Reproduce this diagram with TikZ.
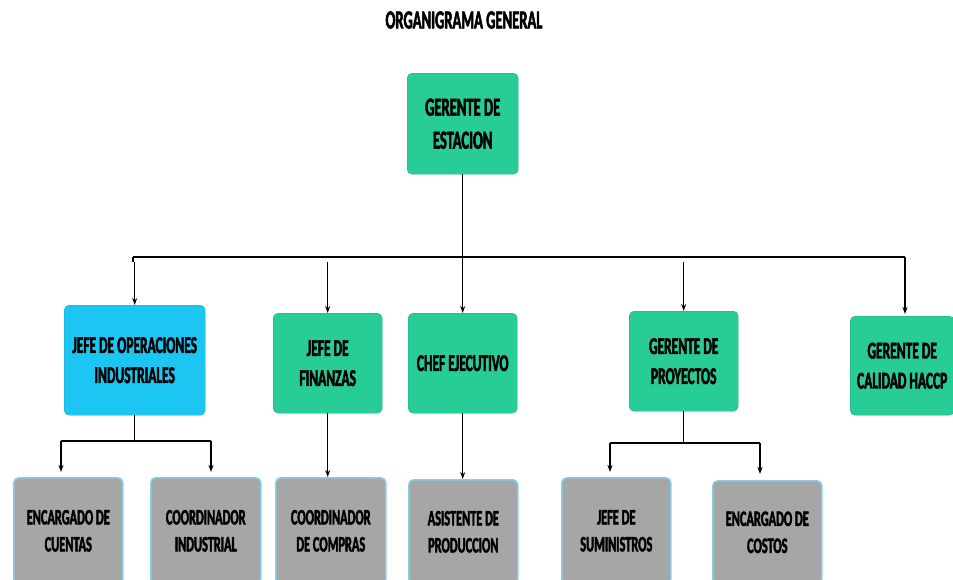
\documentclass[tikz,border=0pt]{standalone}
\usepackage{fontspec}
\newfontfamily\orgfont{Carlito}[FakeStretch=0.56, FakeBold=2]
\usetikzlibrary{arrows.meta}
\definecolor{mint}{HTML}{27CC96}
\definecolor{skyc}{HTML}{1DC6F2}
\definecolor{boxgray}{HTML}{A6A6A6}
\definecolor{rimblue}{HTML}{86CDE6}
\begin{document}
\begin{tikzpicture}[x=1pt,y=-1pt,
  box/.style={rounded corners=5pt, align=center, inner sep=0pt, anchor=north west,
    font=\orgfont\bfseries},
  greenbox/.style={box, fill=mint, draw=mint!85!black, line width=0.4pt},
  bluebox/.style={box, fill=skyc, draw=skyc!85!black, line width=0.4pt},
  graybox/.style={box, fill=boxgray, draw=rimblue, line width=1.6pt},
  bar/.style={line width=2pt, black},
  link/.style={line width=1.3pt, black},
  arr/.style={link, -{Stealth[length=7pt,width=5pt]}},
  big/.style={font=\orgfont\bfseries\fontsize{26}{33}\selectfont},
  mid/.style={font=\orgfont\bfseries\fontsize{24}{30}\selectfont},
  small/.style={font=\orgfont\bfseries\fontsize{22}{27}\selectfont}]
\useasboundingbox (0,0) rectangle (953,579);
\fill[white] (0,0) rectangle (953,579);

\node[font=\orgfont\bfseries\fontsize{26}{28}\selectfont] (title) at (464,20) {ORGANIGRAMA GENERAL};

% top level
\node[greenbox, big, minimum width=111pt, minimum height=101pt] (ger) at (407,73) {GERENTE DE\\ESTACION};

% second level
\node[bluebox, mid, minimum width=141pt, minimum height=110pt] (ops) at (64,305) {JEFE DE OPERACIONES\\INDUSTRIALES};
\node[greenbox, mid, minimum width=109pt, minimum height=100pt] (fin) at (273,313) {JEFE DE\\FINANZAS};
\node[greenbox, mid, minimum width=109pt, minimum height=100pt] (chef) at (408,313) {CHEF EJECUTIVO};
\node[greenbox, mid, minimum width=109pt, minimum height=100pt] (proy) at (629,311) {GERENTE DE\\PROYECTOS};
\node[greenbox, mid, minimum width=104pt, minimum height=99pt] (cal) at (850,316) {GERENTE DE\\CALIDAD HACCP};

% third level
\node[graybox, small, minimum width=109pt, minimum height=106pt] (cue) at (13,477) {ENCARGADO DE\\CUENTAS};
\node[graybox, small, minimum width=110pt, minimum height=106pt] (ind) at (150,477) {COORDINADOR\\INDUSTRIAL};
\node[graybox, small, minimum width=110pt, minimum height=106pt] (com) at (275,477) {COORDINADOR\\DE COMPRAS};
\node[graybox, small, minimum width=109pt, minimum height=104pt] (asi) at (408,479) {ASISTENTE DE\\PRODUCCION};
\node[graybox, small, minimum width=109pt, minimum height=106pt] (sum) at (561,477) {JEFE DE\\SUMINISTROS};
\node[graybox, small, minimum width=109pt, minimum height=103pt] (cos) at (712,480) {ENCARGADO DE\\COSTOS};

% main distribution bar
\coordinate (hub) at (ger.south |- 0,257);
\draw[link] (ger.south) -- (hub);
\draw[bar] (133,257) -- (905,257);
\draw[bar] (133,257) -- (133,262);
\draw[bar] (905,257) -- (905,262);
\draw[arr] (ops.north |- 0,262) -- (ops.north);
\draw[arr] (fin.north |- 0,262) -- (fin.north);
\draw[arr] (hub) -- (chef.north);
\draw[arr] (proy.north |- 0,262) -- (proy.north);
\draw[arr] (905,262) -- (905,314);

% branch under operations
\coordinate (opshub) at (ops.south |- 0,441);
\draw[link] (ops.south) -- (opshub);
\draw[bar] (61,441) -- (211,441);
\draw[arr] (61,441) -- (61,472);
\draw[arr] (211,441) -- (211,472);

% single links
\draw[arr] (fin.south) -- (fin.south |- com.north);
\draw[arr] (chef.south) -- (chef.south |- asi.north);

% branch under projects
\coordinate (proyhub) at (proy.south |- 0,443);
\draw[link] (proy.south) -- (proyhub);
\draw[bar] (610,443) -- (760,443);
\draw[arr] (610,443) -- (610,472);
\draw[arr] (760,443) -- (760,474);
\end{tikzpicture}
\end{document}
